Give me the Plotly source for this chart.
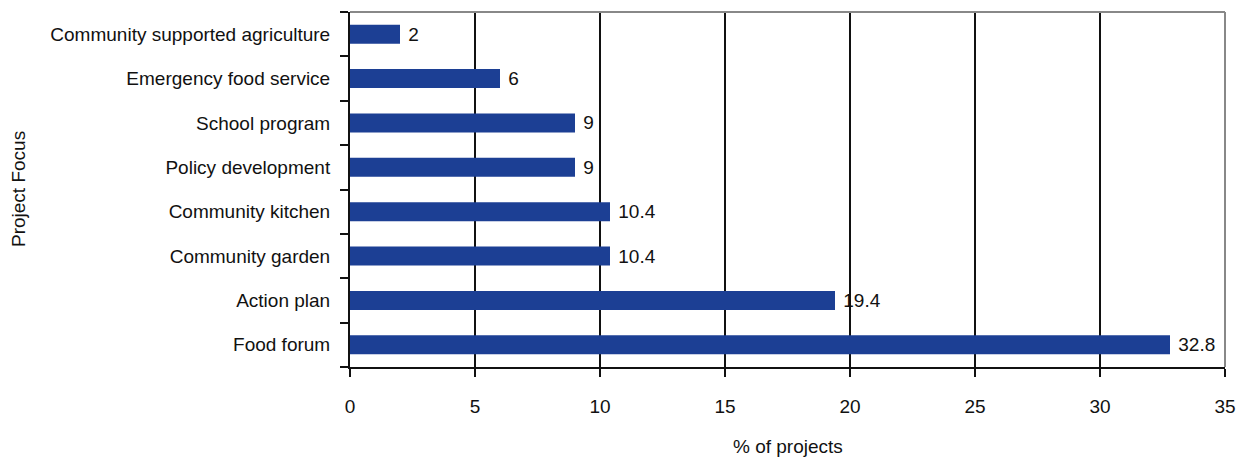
import plotly.graph_objects as go

categories = ["Food forum", "Action plan", "Community garden", "Community kitchen",
              "Policy development", "School program", "Emergency food service",
              "Community supported agriculture"]
values = [32.8, 19.4, 10.4, 10.4, 9, 9, 6, 2]
labels = ["32.8", "19.4", "10.4", "10.4", "9", "9", "6", "2"]
x_ticks = [0, 5, 10, 15, 20, 25, 30, 35]

FONT = "Liberation Sans Narrow, Arial Narrow, Liberation Sans, sans-serif"
FS = 19

fig = go.Figure(go.Bar(
    y=categories, x=values, orientation="h",
    marker=dict(color="#1c3f94", line=dict(width=0)),
    text=["\u00a0" + t for t in labels], textposition="outside", cliponaxis=False,
    constraintext="none",
    textfont=dict(family=FONT, size=FS, color="#111"),
))

fig.update_layout(
    width=1236, height=449,
    margin=dict(l=342, r=19, t=4, b=90),
    plot_bgcolor="white", paper_bgcolor="white",
    bargap=0.57,
    showlegend=False,
    font=dict(family=FONT, size=FS, color="#111"),
    xaxis=dict(
        range=[0, 35], tickvals=x_ticks, showgrid=True, gridcolor="#111", gridwidth=2,
        showline=True, linecolor="#111", linewidth=2,
        ticks="outside", ticklen=8, tickwidth=2, tickcolor="#111",
        ticklabelstandoff=13, zeroline=False, automargin=False,
    ),
    yaxis=dict(
        showgrid=False, showline=True, linecolor="#111", linewidth=2,
        ticks="outside", ticklen=8, tickwidth=2, tickcolor="#111",
        tickson="boundaries", ticklabelstandoff=14, automargin=False,
    ),
    shapes=[
        dict(type="line", xref="paper", yref="paper", x0=0, x1=1, y0=1, y1=1,
             line=dict(color="#888", width=2)),
        dict(type="line", xref="paper", yref="paper", x0=1, x1=1, y0=0, y1=1,
             line=dict(color="#888", width=2)),
    ],
    annotations=[
        dict(text="% of projects", xref="paper", yref="paper", x=0.5, y=0,
             yshift=-92, showarrow=False, font=dict(family=FONT, size=FS)),
        dict(text="Project Focus", xref="paper", yref="paper", x=0, y=0.5,
             xshift=-344, textangle=-90, showarrow=False, font=dict(family=FONT, size=FS)),
    ],
)

fig.write_html("out.html")
